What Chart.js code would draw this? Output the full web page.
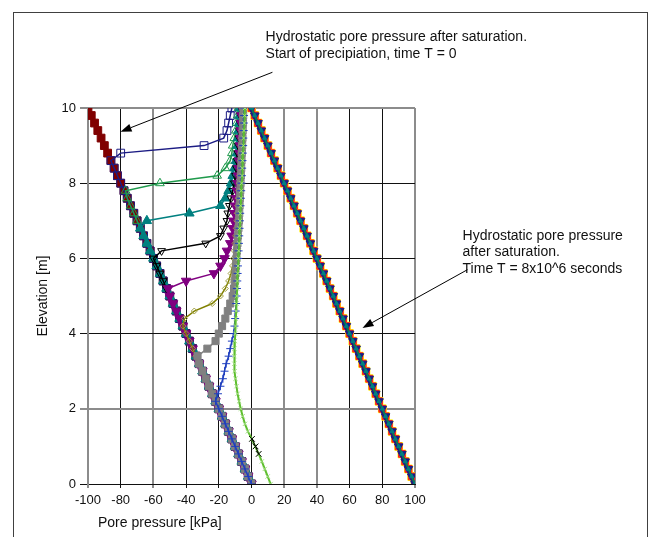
<!DOCTYPE html>
<html><head><meta charset="utf-8">
<script src="https://cdn.jsdelivr.net/npm/chart.js@4/dist/chart.umd.min.js"></script>
<style>
html,body{margin:0;padding:0;background:#fff;width:648px;height:537px;overflow:hidden}
#frame{position:absolute;left:13px;top:12px;width:635px;height:600px;border:1px solid #404040;box-sizing:border-box}
canvas{position:absolute;left:0;top:0}
</style></head>
<body><div id="frame"></div><canvas id="c" width="648" height="537"></canvas>
<script>
// Elevation nodes [m]
const Z = [10,9.8,9.6,9.4,9.2,9,8.8,8.6,8.4,8.2,8,7.8,7.6,7.4,7.2,7,6.8,6.6,6.4,6.2,6,5.8,5.6,5.4,5.2,5,4.8,4.6,4.4,4.2,4,3.8,3.6,3.4,3.2,3,2.8,2.6,2.4,2.2,2,1.8,1.6,1.4,1.2,1,0.8,0.6,0.4,0.2,0];
// Pore pressure profiles [kPa]
const T0 = [-100,-98,-96,-94,-92,-90,-88,-86,-84,-82,-80,-78,-76,-74,-72,-70,-68,-66,-64,-62,-60,-58,-56,-54,-52,-50,-48,-46,-44,-42,-40,-38,-36,-34,-32,-30,-28,-26,-24,-22,-20,-18,-16,-14,-12,-10,-8,-6,-4,-2,0];
const P1 = [-12,-13,-14,-15,-17,-29,-80,-86,-84,-82,-80,-78,-76,-74,-72,-70,-68,-66,-64,-62,-60,-58,-56,-54,-52,-50,-48,-46,-44,-42,-40,-38,-36,-34,-32,-30,-28,-26,-24,-22,-20,-18,-16,-14,-12,-10,-8,-6,-4,-2,0];
const P2 = [-8,-8.5,-9,-9.5,-10.5,-11.5,-12,-13,-16,-21,-56,-77,-76,-74,-72,-70,-68,-66,-64,-62,-60,-58,-56,-54,-52,-50,-48,-46,-44,-42,-40,-38,-36,-34,-32,-30,-28,-26,-24,-22,-20,-18,-16,-14,-12,-10,-8,-6,-4,-2,0];
const P3 = [-7,-7.3,-7.6,-8,-8.3,-8.6,-9,-9.5,-10.5,-11.5,-12.5,-14,-16,-19,-38,-64,-68,-66,-64,-62,-60,-58,-56,-54,-52,-50,-48,-46,-44,-42,-40,-38,-36,-34,-32,-30,-28,-26,-24,-22,-20,-18,-16,-14,-12,-10,-8,-6,-4,-2,0];
const P4 = [-6.5,-6.8,-7,-7.3,-7.6,-8,-8.4,-8.8,-9.2,-9.8,-10.5,-11.5,-12.5,-13.5,-14.5,-15,-17,-19,-28,-55,-60,-58,-56,-54,-52,-50,-48,-46,-44,-42,-40,-38,-36,-34,-32,-30,-28,-26,-24,-22,-20,-18,-16,-14,-12,-10,-8,-6,-4,-2,0];
const P5 = [-6,-6.2,-6.4,-6.6,-6.8,-7,-7.3,-7.6,-7.9,-8.2,-8.6,-9,-9.5,-10,-10.5,-11,-11.5,-12.2,-13,-15,-16.5,-19,-23,-40,-51,-50,-48,-46,-44,-42,-40,-38,-36,-34,-32,-30,-28,-26,-24,-22,-20,-18,-16,-14,-12,-10,-8,-6,-4,-2,0];
const P6 = [-5.5,-5.6,-5.8,-6,-6.2,-6.4,-6.6,-6.8,-7,-7.2,-7.5,-7.8,-8.1,-8.4,-8.7,-9,-9.3,-9.7,-10.1,-10.5,-11,-11.6,-12.5,-14,-16,-19,-24,-35,-41,-42,-40,-38,-36,-34,-32,-30,-28,-26,-24,-22,-20,-18,-16,-14,-12,-10,-8,-6,-4,-2,0];
const P7 = [-5,-5.1,-5.2,-5.4,-5.5,-5.7,-5.9,-6.1,-6.3,-6.5,-6.7,-6.9,-7.1,-7.3,-7.5,-7.7,-8,-8.3,-8.6,-8.9,-9.2,-9.5,-9.8,-10.2,-10.7,-11.5,-13,-14.5,-16,-18,-20,-22,-27,-33,-32,-30,-28,-26,-24,-22,-20,-18,-16,-14,-12,-10,-8,-6,-4,-2,0];
const P8 = [-4.5,-4.6,-4.7,-4.8,-5,-5.1,-5.3,-5.5,-5.7,-5.9,-6.1,-6.3,-6.5,-6.7,-6.9,-7.1,-7.3,-7.5,-7.7,-7.9,-8.1,-8.3,-8.5,-8.7,-8.9,-9.1,-9.4,-9.7,-10,-10.4,-11,-12,-13,-14,-15.5,-16.5,-17.5,-19,-20.5,-22,-20,-18,-16,-14,-12,-10,-8,-6,-4,-2,0];
const P9 = [-4,-4.2,-4.4,-4.6,-4.8,-5,-5.2,-5.4,-5.6,-5.8,-6,-6.2,-6.4,-6.6,-6.8,-7,-7.2,-7.4,-7.6,-7.8,-8,-8.2,-8.4,-8.6,-8.8,-9,-9.2,-9.4,-9.6,-9.8,-10,-10.2,-10.4,-10.5,-10.5,-10.3,-9.8,-9.2,-8.5,-7.6,-6.6,-5.4,-4,-2.2,0.2,2.2,4.4,6.3,8.1,9.9,11.7];
const Z10 = [1.2,1,0.8];
const P10 = [0.3,2.5,4.4];
const FINAL = [0,2,4,6,8,10,12,14,16,18,20,22,24,26,28,30,32,34,36,38,40,42,44,46,48,50,52,54,56,58,60,62,64,66,68,70,72,74,76,78,80,82,84,86,88,90,92,94,96,98,100];
const X_TICKS = [-100,-80,-60,-40,-20,0,20,40,60,80,100];
const Y_TICKS = [0,2,4,6,8,10];
const X_TITLE = 'Pore pressure [kPa]';
const Y_TITLE = 'Elevation [m]';
const NOTE1 = ['Hydrostatic pore pressure after saturation.','Start of precipiation, time T = 0'];
const NOTE2 = ['Hydrostatic pore pressure','after saturation.','Time T = 8x10^6 seconds'];

const FONT = '"Liberation Sans", Arial, sans-serif';
const T = 'rgba(0,0,0,0)';

function series(xs, zs, o) {
  return Object.assign({
    data: xs.map((x, i) => ({x: x, y: zs[i]})),
    showLine: true, borderWidth: 1.5, pointBorderWidth: 1, tension: 0
  }, o);
}

const datasets = [
  series(T0, Z, {borderColor:'#800000', pointStyle:'rect', pointRadius:5.5, pointBackgroundColor:'#800000', pointBorderColor:'#800000'}),
  series(P1, Z, {borderColor:'#1c1c84', pointStyle:'rect', pointRadius:5.5, pointBackgroundColor:T, pointBorderColor:'#1c1c84'}),
  series(P2, Z, {borderColor:'#1f9a4c', pointStyle:'triangle', pointRadius:5, pointBackgroundColor:T, pointBorderColor:'#1f9a4c'}),
  series(P3, Z, {borderColor:'#008080', pointStyle:'triangle', pointRadius:5.5, pointBackgroundColor:'#008080', pointBorderColor:'#008080'}),
  series(P4, Z, {borderColor:'#000000', pointStyle:'triangle', pointRotation:180, pointRadius:4.5, pointBackgroundColor:T, pointBorderColor:'#000000'}),
  series(P5, Z, {borderColor:'#800080', pointStyle:'triangle', pointRotation:180, pointRadius:5.5, pointBackgroundColor:'#800080', pointBorderColor:'#800080'}),
  series(P6, Z, {borderColor:'#808000', pointStyle:'rectRot', pointRadius:3, pointBackgroundColor:T, pointBorderColor:'#a0a040'}),
  series(P7, Z, {borderColor:'#808080', pointStyle:'rect', pointRadius:5, pointBackgroundColor:'#808080', pointBorderColor:'#808080'}),
  series(P8, Z, {borderColor:'#1f3fbf', pointStyle:'cross', pointRadius:4, pointBackgroundColor:T, pointBorderColor:'#1f3fbf'}),
  series(P9, Z, {borderColor:'#5fbf2f', borderWidth:2, pointStyle:'crossRot', pointRadius:3, pointBackgroundColor:T, pointBorderColor:'#a0dc80'}),
  series(P10, Z10, {borderColor:'#000000', pointStyle:'crossRot', pointRadius:4, pointBackgroundColor:T, pointBorderColor:'#000000', borderWidth:1}),
  series(FINAL, Z, {borderColor:'#ffff00', pointStyle:'rect', pointRadius:5.5, pointBackgroundColor:'#ffff00', pointBorderColor:'#ffff00'}),
  series(FINAL, Z, {borderColor:'#ff2020', pointStyle:'rect', pointRadius:4.8, pointBackgroundColor:'#ff2020', pointBorderColor:'#ff2020'}),
  series(FINAL, Z, {borderColor:'#1c1c84', pointStyle:'triangle', pointRotation:180, pointRadius:5, pointBackgroundColor:'#1c1c84', pointBorderColor:'#1c1c84'}),
  series(FINAL, Z, {borderColor:'#0a7a50', borderWidth:2, pointStyle:'triangle', pointRadius:2.5, pointBackgroundColor:'#008080', pointBorderColor:'#008080'})
];
datasets.forEach((d, i) => { d.order = 100 - i; });

const GRAY_X = [-100, -60, 20, 40, 100];
const GRAY_Y = [10, 2];

const annot = {
  id: 'annot',
  afterDraw(chart) {
    const c = chart.ctx, xs = chart.scales.x, ys = chart.scales.y, a = chart.chartArea;
    const px = v => xs.getPixelForValue(v), py = v => ys.getPixelForValue(v);
    c.save();
    c.font = '14px ' + FONT;
    c.fillStyle = '#111';
    c.textBaseline = 'middle';
    c.textAlign = 'left';
    c.fillText(X_TITLE, a.left + 10, a.bottom + 39);
    NOTE1.forEach((t, i) => c.fillText(t, px(8.6), py(11.88) + i * 17));
    NOTE2.forEach((t, i) => c.fillText(t, px(129.1), py(6.6) + i * 16.5));
    function arrow(x1, y1, x2, y2) {
      const ang = Math.atan2(y2 - y1, x2 - x1);
      const L = 11, W = 4;
      c.strokeStyle = '#000'; c.fillStyle = '#000'; c.lineWidth = 1;
      c.beginPath(); c.moveTo(x1, y1);
      c.lineTo(x2 - L * Math.cos(ang), y2 - L * Math.sin(ang)); c.stroke();
      c.beginPath(); c.moveTo(x2, y2);
      c.lineTo(x2 - L * Math.cos(ang) + W * Math.sin(ang), y2 - L * Math.sin(ang) - W * Math.cos(ang));
      c.lineTo(x2 - L * Math.cos(ang) - W * Math.sin(ang), y2 - L * Math.sin(ang) + W * Math.cos(ang));
      c.closePath(); c.fill();
    }
    arrow(px(12.8), py(10.95), px(-80.1), py(9.37));
    arrow(px(132.1), py(5.70), px(67.9), py(4.15));
    c.restore();
  }
};

new Chart(document.getElementById('c'), {
  type: 'scatter',
  data: { datasets: datasets },
  options: {
    responsive: false, animation: false, devicePixelRatio: 1,
    layout: { padding: { left: 35, top: 108, right: 233, bottom: 0 } },
    plugins: { legend: { display: false }, tooltip: { enabled: false } },
    scales: {
      x: {
        type: 'linear', min: -100, max: 100,
        afterBuildTicks: s => { s.ticks = X_TICKS.map(v => ({value: v})); },
        afterFit: s => { s.height = 53; },
        ticks: { color: '#111', font: { family: FONT, size: 13 }, padding: 5, maxRotation: 0, autoSkip: false },
        grid: {
          color: ctx => GRAY_X.includes(ctx.tick && ctx.tick.value) ? '#8c8c8c' : '#111',
          lineWidth: ctx => GRAY_X.includes(ctx.tick && ctx.tick.value) ? 2 : 1,
          tickLength: 4, drawTicks: true
        },
        border: { display: true, color: '#111', width: 1 }
      },
      y: {
        type: 'linear', min: 0, max: 10,
        afterBuildTicks: s => { s.ticks = Y_TICKS.map(v => ({value: v})); },
        afterFit: s => { s.width = 53; },
        ticks: { color: '#111', font: { family: FONT, size: 13 }, padding: 4, autoSkip: false },
        title: { display: true, text: Y_TITLE, color: '#111', font: { family: FONT, size: 14 }, padding: { top: 0, bottom: 0 } },
        grid: {
          color: ctx => GRAY_Y.includes(ctx.tick && ctx.tick.value) ? '#8c8c8c' : '#111',
          lineWidth: ctx => GRAY_Y.includes(ctx.tick && ctx.tick.value) ? 2 : 1,
          tickLength: 8, drawTicks: true
        },
        border: { display: true, color: '#8c8c8c', width: 2 }
      }
    }
  },
  plugins: [annot]
});
</script>
</body></html>
